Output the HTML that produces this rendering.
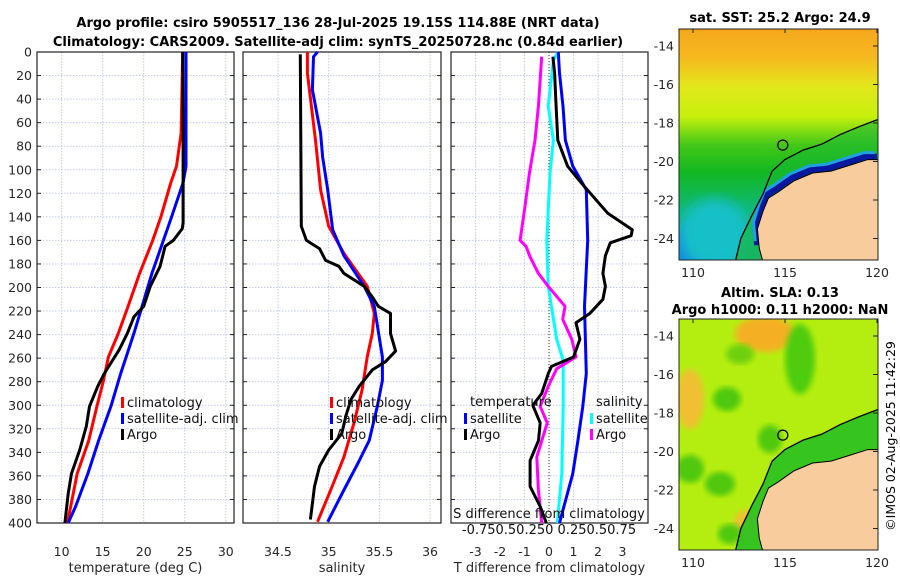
<!DOCTYPE html>
<html><head><meta charset="utf-8"><style>
body{margin:0;background:#fff;}
svg{display:block;font-family:"DejaVu Sans","Liberation Sans",sans-serif;}
</style></head><body>
<svg id="chart" width="900" height="580" viewBox="0 0 900 580" xmlns="http://www.w3.org/2000/svg">
<defs>
<linearGradient id="sstGrad" x1="0" y1="0" x2="0" y2="1">
<stop offset="0" stop-color="#f4a81c"/><stop offset="0.12" stop-color="#f6b81e"/>
<stop offset="0.25" stop-color="#e2e81a"/><stop offset="0.38" stop-color="#c6f00c"/>
<stop offset="0.5" stop-color="#44c818"/><stop offset="0.62" stop-color="#12b820"/>
<stop offset="0.78" stop-color="#10b878"/><stop offset="1" stop-color="#18b0b0"/>
</linearGradient>
<filter id="blur6"><feGaussianBlur stdDeviation="6"/></filter>
<filter id="blur3"><feGaussianBlur stdDeviation="3"/></filter>
<clipPath id="clipTop"><rect x="679" y="29" width="199" height="231"/></clipPath>
<clipPath id="clipBot"><rect x="679" y="319" width="199" height="231"/></clipPath>
</defs>
<text x="338" y="27" font-size="13" font-weight="bold" text-anchor="middle">Argo profile: csiro 5905517_136 28-Jul-2025 19.15S 114.88E (NRT data)</text>
<text x="338" y="46" font-size="13" font-weight="bold" text-anchor="middle">Climatology: CARS2009. Satellite-adj clim: synTS_20250728.nc (0.84d earlier)</text>
<g id="panels"></g>
<g id="maps"></g>
<text transform="translate(895,436) rotate(-90)" font-size="12.5" text-anchor="middle">©IMOS 02-Aug-2025 11:42:29</text>
</svg>
<script>
const NS='http://www.w3.org/2000/svg';
// ---- data ----
const depthTicks=[0,20,40,60,80,100,120,140,160,180,200,220,240,260,280,300,320,340,360,380,400];
const tempTicks=[10,15,20,25,30];
const salTicks=[34.5,35,35.5,36];
const salTickLabels=['34.5','35','35.5','36'];
const diffTicks=[-3,-2,-1,0,1,2,3];

const tClimDepth=[0,69,97,111,140,160,188,216,239,259,279,301,330,358,386,400];
const tClimVal=[24.75,24.55,24.0,23.3,22.1,21.1,19.5,18.1,16.9,15.7,15.1,14.3,13.3,11.9,11.1,10.7];
const tSatDepth=[0,97,111,140,160,188,216,239,273,301,330,358,386,400];
const tSatVal=[25.15,25.15,24.8,23.4,22.4,21.0,19.8,18.8,17.2,16.0,14.5,13.2,11.7,10.8];
const tArgoDepth=[0,75,145,150,160,165,182,199,216,225,239,253,264,273,284,301,318,338,358,375,400];
const tArgoVal=[24.75,24.8,24.8,24.7,23.6,22.6,22.0,20.8,20.0,18.8,18.0,17.0,16.0,15.2,14.4,13.4,13.0,12.2,11.2,10.8,10.4];

const sClimDepth=[0,18,75,117,148,171,199,222,239,259,287,315,344,372,399];
const sClimVal=[34.79,34.79,34.87,34.92,35.0,35.15,35.38,35.45,35.43,35.38,35.33,35.25,35.15,35.02,34.89];
const sSatDepth=[0,4,32,69,89,117,151,173,199,216,259,279,301,330,349,372,399];
const sSatVal=[34.89,34.85,34.84,34.92,34.94,34.99,35.04,35.15,35.35,35.45,35.53,35.53,35.48,35.40,35.29,35.15,34.99];
const sArgoDepth=[2,148,160,167,177,182,188,199,208,216,222,239,254,263,270,284,295,309,324,338,352,369,397];
const sArgoVal=[34.72,34.73,34.78,34.91,34.97,35.10,35.15,35.35,35.43,35.49,35.61,35.61,35.66,35.56,35.43,35.30,35.22,35.17,35.13,35.0,34.91,34.86,34.82];

const dtSatDepth=[0,18,46,75,97,117,160,216,273,301,330,358,400];
const dtSatVal=[0.38,0.43,0.57,0.67,0.97,1.52,1.58,1.45,1.52,1.38,1.18,0.97,0.43];
const dtArgoDepth=[4,18,46,75,97,111,137,151,156,162,173,188,199,210,222,230,244,259,267,273,290,300,315,330,347,369,386,400];
const dtArgoVal=[0.16,0.23,0.29,0.36,0.76,1.31,2.4,3.4,3.35,2.5,2.3,2.2,2.3,2.2,1.67,1.1,1.26,1.0,0.1,-0.03,-0.3,-0.66,-0.36,-0.43,-0.77,-0.77,-0.36,-0.11];
const dsSatDepth=[0,7,46,75,103,160,199,244,262,301,358,400];
const dsSatVal=[0.095,0.045,-0.008,0.045,0.01,-0.023,-0.008,0.078,0.145,0.145,0.13,0.085];
const dsArgoDepth=[4,46,75,103,131,160,165,174,188,199,216,227,244,259,269,284,301,315,344,372,400];
const dsArgoVal=[-0.075,-0.108,-0.143,-0.2,-0.245,-0.295,-0.235,-0.193,-0.108,-0.008,0.163,0.14,0.233,0.275,0.078,-0.008,-0.09,-0.018,-0.125,-0.108,-0.075];

// ---- axes ----
const Y0=52,Y1=523;
function yScale(d){return Y0+(d/400)*(Y1-Y0);}
function mk(tag,attrs,parent){const e=document.createElementNS(NS,tag);for(const k in attrs)e.setAttribute(k,attrs[k]);parent.appendChild(e);return e;}
const panelsG=document.getElementById('panels');
const panels=[
 {name:'temperature-panel',x0:37,x1:234,min:7,max:31,ticks:tempTicks,labels:tempTicks.map(String),xlabel:'temperature (deg C)',ylabels:true},
 {name:'salinity-panel',x0:243,x1:441,min:34.155,max:36.108,ticks:salTicks,labels:salTickLabels,xlabel:'salinity',ylabels:false},
 {name:'difference-panel',x0:451,x1:648,min:-4,max:4.04,ticks:diffTicks,labels:diffTicks.map(String),xlabel:'T difference from climatology',ylabels:false}
];
panels.forEach(p=>{p.sx=v=>p.x0+(v-p.min)/(p.max-p.min)*(p.x1-p.x0);});
panels.forEach(p=>{
 const g=mk('g',{},panelsG);
 
 
 depthTicks.forEach(d=>{
  const l=mk('line',{x1:p.x0,x2:p.x1,y1:yScale(d),y2:yScale(d),stroke:'#c4cce8','stroke-width':1,'stroke-dasharray':'1.5 1.5'},g);
  
  
  mk('line',{x1:p.x0,x2:p.x0+4,y1:yScale(d),y2:yScale(d),stroke:'#222'},g);
  mk('line',{x1:p.x1-4,x2:p.x1,y1:yScale(d),y2:yScale(d),stroke:'#222'},g);
  if(p.ylabels){const t=mk('text',{x:p.x0-5,y:yScale(d)+4.5,'font-size':12.5,'text-anchor':'end',fill:'#262626'},g);t.textContent=d;
   
   }
 });
 p.ticks.forEach((v,i)=>{
  const x=p.sx(v);
  const l=mk('line',{x1:x,x2:x,y1:Y0,y2:Y1,stroke:'#c4cce8','stroke-width':1,'stroke-dasharray':'1.5 1.5'},g);
  
  
  const t=mk('text',{x:x,y:Y1+33,'font-size':12.5,'text-anchor':'middle',fill:'#262626'},g);t.textContent=p.labels[i];
  
  
 });
 const r=mk('rect',{x:p.x0,y:Y0,width:p.x1-p.x0,height:Y1-Y0,fill:'none',stroke:'#222','stroke-width':1.2},g);
 
 
 const xl=mk('text',{x:(p.x0+p.x1)/2,y:572,'font-size':13,'text-anchor':'middle',fill:'#262626'},g);xl.textContent=p.xlabel;
 
 
 p.g=g;
});
// zero line in diff panel
{const p=panels[2];const z=mk('line',{x1:p.sx(0),x2:p.sx(0),y1:Y0,y2:Y1,stroke:'#333','stroke-width':1,'stroke-dasharray':'1 2'},p.g);
 
 }

function series(p,depths,vals,color,name,scale){
 const pts=depths.map((d,i)=>p.sx(vals[i]*(scale||1)).toFixed(1)+','+yScale(d).toFixed(1)).join(' ');
 const pl=mk('polyline',{points:pts,fill:'none',stroke:color,'stroke-width':3,'stroke-linejoin':'round'},p.g);
 
 
}
series(panels[0],tClimDepth,tClimVal,'#ff0000','temp-climatology-line');
series(panels[0],tSatDepth,tSatVal,'#0000ff','temp-satellite-line');
series(panels[0],tArgoDepth,tArgoVal,'#000000','temp-argo-line');
series(panels[1],sClimDepth,sClimVal,'#ff0000','sal-climatology-line');
series(panels[1],sSatDepth,sSatVal,'#0000ff','sal-satellite-line');
series(panels[1],sArgoDepth,sArgoVal,'#000000','sal-argo-line');
series(panels[2],dsSatDepth,dsSatVal,'#00ffff','s-diff-satellite-line',4);
series(panels[2],dsArgoDepth,dsArgoVal,'#ff00ff','s-diff-argo-line',4);
series(panels[2],dtSatDepth,dtSatVal,'#0000ff','t-diff-satellite-line');
series(panels[2],dtArgoDepth,dtArgoVal,'#000000','t-diff-argo-line');

function legend(g,x,y,color,label){
 const m=mk('rect',{x:x,y:y-9,width:3,height:11,fill:color},g);
 
 
 const t=mk('text',{x:x+6,y:y+1,'font-size':13,fill:'#111'},g);t.textContent=label;
 
 
}
legend(panels[0].g,121,406,'#ff0000','climatology');
legend(panels[0].g,121,422,'#0000ff','satellite-adj. clim');
legend(panels[0].g,121,438,'#000000','Argo');
legend(panels[1].g,330,406,'#ff0000','climatology');
legend(panels[1].g,330,422,'#0000ff','satellite-adj. clim');
legend(panels[1].g,330,438,'#000000','Argo');
{const g=panels[2].g;
 const t1=mk('text',{x:470,y:406,'font-size':13,fill:'#111'},g);t1.textContent='temperature';
 
 
 const t2=mk('text',{x:596,y:406,'font-size':13,fill:'#111'},g);t2.textContent='salinity';
 
 
 legend(g,464,422,'#0000ff','satellite');
 legend(g,464,438,'#000000','Argo');
 legend(g,590,422,'#00ffff','satellite');
 legend(g,590,438,'#ff00ff','Argo');
 const s1=mk('text',{x:549,y:518,'font-size':13,'text-anchor':'middle',fill:'#111'},g);s1.textContent='S difference from climatology';
 
 
 const s2=mk('text',{x:549,y:534,'font-size':13,'text-anchor':'middle',fill:'#111'},g);s2.textContent='-0.750.50.250 0.250.50.75';
 
 
}

// ---- maps ----
const latTicks=[-14,-16,-18,-20,-22,-24];
const lonTicks=[110,115,120];
const landLon=[113.8,113.6,113.5,113.8,114.1,114.6,115.5,116.5,117.5,118.5,119.5,120.1,120.1];
const landLat=[-25.2,-24.5,-23.5,-22.6,-21.9,-21.6,-21.0,-20.6,-20.5,-20.2,-19.9,-19.9,-25.2];
const shelfLon=[112.3,112.6,113.2,113.8,114.3,115.0,116.0,117.0,118.0,119.0,120.1];
const shelfLat=[-25.2,-24.0,-22.8,-21.7,-20.5,-19.9,-19.4,-19.1,-18.6,-18.2,-17.8];
const floatLon=114.88, floatLat=-19.15;
const mapsG=document.getElementById('maps');
function drawMap(name,top,title1,title2,clip,bottomMap){
 const g=mk('g',{},mapsG);
 
 
 const sx=lon=>693+(lon-110)*18.4;
 const sy=lat=>top+17+(-14-lat)*19.25;
 const c=mk('g',{'clip-path':'url(#'+clip+')'},g);
 const shelfPoly=shelfLon.map((l,i)=>sx(l)+','+sy(shelfLat[i])).join(' ')+' '+sx(120.1)+','+sy(-25.2);
 if(!bottomMap){
  mk('rect',{x:679,y:top,width:199,height:231,fill:'url(#sstGrad)'},c);
  mk('ellipse',{cx:695,cy:top+225,rx:30,ry:30,fill:'#1888e0',filter:'url(#blur6)'},c);
  mk('ellipse',{cx:715,cy:top+205,rx:35,ry:35,fill:'#18c0c8',filter:'url(#blur6)'},c);
  mk('polygon',{points:shelfPoly,fill:'#18b830',opacity:0.6},c);
  mk('polyline',{points:landLon.slice(1,12).map((l,i)=>(sx(l)-2)+','+(sy(landLat[i+1])-3)).join(' '),fill:'none',stroke:'#0818a0','stroke-width':6},c);
  mk('polyline',{points:landLon.slice(1,12).map((l,i)=>(sx(l)-4)+','+(sy(landLat[i+1])-7)).join(' '),fill:'none',stroke:'#20a0e0','stroke-width':3},c);
 } else {
  mk('rect',{x:679,y:top,width:199,height:231,fill:'#b4ee10'},c);
  [[765,top+15,30,18,'#f4b020'],[690,top+80,14,30,'#f0c030'],[800,top+40,15,35,'#50cc10'],[740,top+35,14,10,'#70d010'],[727,top+80,14,12,'#50c810'],[770,top+120,12,14,'#50c810'],[690,top+150,14,14,'#50c810'],[720,top+165,15,12,'#50c810'],[746,top+205,12,14,'#f0c030'],[730,top+215,12,10,'#50c810']].forEach(b=>{
   mk('ellipse',{cx:b[0],cy:b[1],rx:b[2],ry:b[3],fill:b[4],filter:'url(#blur3)'},c);});
  mk('polygon',{points:shelfPoly,fill:'#28c020',opacity:0.9},c);
 }
 const land=mk('polygon',{points:landLon.map((l,i)=>sx(l)+','+sy(landLat[i])).join(' '),fill:'#f8cc9c',stroke:'#000','stroke-width':1},c);
 
 
 const sh=mk('polyline',{points:shelfLon.map((l,i)=>sx(l)+','+sy(shelfLat[i])).join(' '),fill:'none',stroke:'#000','stroke-width':1.3},c);
 
 
 const fc=mk('circle',{cx:sx(floatLon),cy:sy(floatLat),r:5,fill:'none',stroke:'#000','stroke-width':1.3},g);
 
 
 mk('rect',{x:679,y:top,width:199,height:231,fill:'none',stroke:'#222','stroke-width':1},g);
 latTicks.forEach(l=>{
  const t=mk('text',{x:674,y:sy(l)+4.5,'font-size':12.5,'text-anchor':'end',fill:'#262626'},g);t.textContent=l;
  
  
  mk('line',{x1:878,x2:873,y1:sy(l),y2:sy(l),stroke:'#222'},g);
 });
 lonTicks.forEach(l=>{
  const t=mk('text',{x:sx(l),y:top+248,'font-size':12.5,'text-anchor':'middle',fill:'#262626'},g);t.textContent=l;
  
  
  mk('line',{x1:sx(l),x2:sx(l),y1:top,y2:top+4,stroke:'#222'},g);
 });
 if(title2){
  const a=mk('text',{x:780,y:top-22,'font-size':13,'font-weight':'bold','text-anchor':'middle'},g);a.textContent=title1;
  
  
  const b=mk('text',{x:780,y:top-5,'font-size':13,'font-weight':'bold','text-anchor':'middle'},g);b.textContent=title2;
  
  
 } else {
  const a=mk('text',{x:780,y:top-7,'font-size':13,'font-weight':'bold','text-anchor':'middle'},g);a.textContent=title1;
  
  
 }
}
drawMap('sst-map',29,'sat. SST: 25.2 Argo: 24.9',null,'clipTop',false);
drawMap('sla-map',319,'Altim. SLA: 0.13','Argo h1000: 0.11 h2000: NaN','clipBot',true);
</script>
</body></html>
